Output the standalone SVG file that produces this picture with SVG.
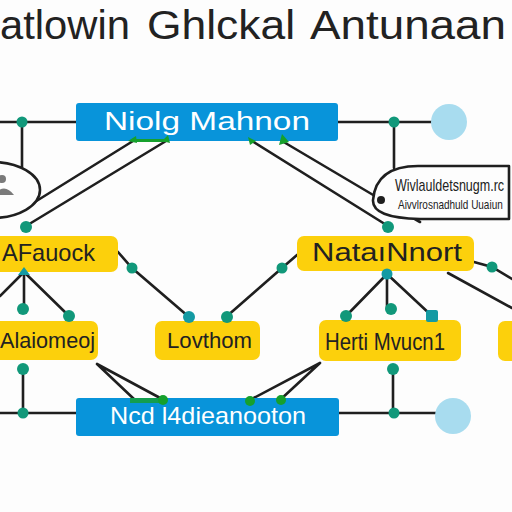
<svg xmlns="http://www.w3.org/2000/svg" width="512" height="512" viewBox="0 0 512 512">
<style>
.ln{stroke:#1f1f1f;stroke-width:2.6;fill:none;stroke-linecap:round}
.dot{fill:#11987a}
.teal{fill:#139aa3}
.gm{fill:#16a02c}
.blue{fill:#0894da}
.yel{fill:#fcd00c}
.cir{fill:#a8dcef}
.tw{font-family:"Liberation Sans",Arial,sans-serif;fill:#fff}
.tk{font-family:"Liberation Sans",Arial,sans-serif;fill:#222}
</style>
<rect width="512" height="512" fill="#fdfdfd"/>
<g id="title">
<text class="tk" x="0" y="39" font-size="40" textLength="130" lengthAdjust="spacingAndGlyphs">atlowin</text>
<text class="tk" x="147" y="39" font-size="40" textLength="148" lengthAdjust="spacingAndGlyphs">Ghlckal</text>
<text class="tk" x="310" y="39" font-size="40" textLength="196" lengthAdjust="spacingAndGlyphs">Antunaan</text>
</g>
<g id="connectors">
<path class="ln" d="M0 122H76M22 122V168"/>
<path class="ln" d="M338 122H440M394 122V168"/>
<path class="ln" d="M133 141L30 205M166 141L26 226"/>
<path class="ln" d="M252 141L388 226M282 141L385 202L420 222"/>
<path class="ln" d="M118 252L132 268L189 317M226 317L282 268L297 255"/>
<path class="ln" d="M24 272L0 296M24 272V310M24 272L69 316"/>
<path class="ln" d="M387 274L346 316M387 274V309M387 274L432 316"/>
<path class="ln" d="M474 262L492 267L512 279M448 273L512 308"/>
<path class="ln" d="M23 369V413M0 413H76"/>
<path class="ln" d="M393 369V413M339 413H436"/>
<path class="ln" d="M97 364L135 400M97 364L162 399"/>
<path class="ln" d="M320 363L250 400M320 363L280 400"/>
</g>
<g id="callout-left">
<ellipse cx="-8" cy="190" rx="48" ry="28" fill="#fdfdfd" stroke="#1f1f1f" stroke-width="2.6"/>
<circle cx="2" cy="179" r="4" fill="#7a7a7a"/>
<path d="M-6 195Q4 182 14 195Z" fill="#7a7a7a"/>
</g>
<g id="callout-right">
<path d="M509 166H418Q376 166 373 200Q372 218 420 219H509Z" fill="#fdfdfd" stroke="#1f1f1f" stroke-width="2.6" stroke-linejoin="round"/>
<circle cx="381" cy="200" r="4" fill="#1f1f1f"/>
<text class="tk" transform="translate(395 191) scale(0.737 1)" x="0" y="0" font-size="17" textLength="148" lengthAdjust="spacingAndGlyphs">Wivlauldetsnugm.rc</text>
<text class="tk" transform="translate(398 209) scale(0.77 1)" x="0" y="0" font-size="13" textLength="136" lengthAdjust="spacingAndGlyphs">Aivvlrosnadhuld Uuaiun</text>
</g>
<g id="node-top">
<rect class="blue" x="76" y="103" width="262" height="38" rx="3"/>
<text class="tw" x="104" y="130" font-size="25" textLength="206" lengthAdjust="spacingAndGlyphs">Niolg Mahnon</text>
</g>
<g id="node-bottom">
<rect class="blue" x="76" y="398" width="263" height="38" rx="3"/>
<text class="tw" x="110" y="424" font-size="24" textLength="196" lengthAdjust="spacingAndGlyphs">Ncd l4dieanooton</text>
</g>
<g id="circles">
<circle class="cir" cx="449" cy="122" r="18"/>
<circle class="cir" cx="453" cy="416" r="18"/>
</g>
<g id="node-l2-left">
<rect class="yel" x="-10" y="236" width="128" height="36" rx="7"/>
<text class="tk" x="2" y="261" font-size="24" textLength="93" lengthAdjust="spacingAndGlyphs">AFauock</text>
</g>
<g id="node-l2-right">
<rect class="yel" x="297" y="236" width="177" height="35" rx="7"/>
<text class="tk" x="312" y="261" font-size="26" textLength="150" lengthAdjust="spacingAndGlyphs">NataıNnort</text>
</g>
<g id="node-l3-a">
<rect class="yel" x="-10" y="321" width="108" height="39" rx="7"/>
<text class="tk" x="0" y="348" font-size="22" textLength="95" lengthAdjust="spacingAndGlyphs">Alaiomeoj</text>
</g>
<g id="node-l3-b">
<rect class="yel" x="155" y="321" width="105" height="39" rx="7"/>
<text class="tk" x="167" y="348" font-size="22" textLength="85" lengthAdjust="spacingAndGlyphs">Lovthom</text>
</g>
<g id="node-l3-c">
<rect class="yel" x="319" y="320" width="142" height="41" rx="7"/>
<text class="tk" x="325" y="350" font-size="24" textLength="120" lengthAdjust="spacingAndGlyphs">Herti Mvucn1</text>
</g>
<g id="node-l3-d">
<rect class="yel" x="498" y="321" width="30" height="40" rx="7"/>
</g>
<g id="markers">
<circle class="dot" cx="22" cy="122" r="5.5"/>
<circle class="dot" cx="394" cy="122" r="5.5"/>
<circle class="dot" cx="26" cy="227" r="6"/>
<circle class="dot" cx="388" cy="227" r="6"/>
<path class="gm" d="M128 141L136 136L137 143ZM162 141L168 135L170 143Z"/>
<rect class="gm" x="133" y="139" width="33" height="3"/>
<path class="gm" d="M256 141L248 137L250 145ZM282 134L289 142L279 145Z"/>
<circle class="dot" cx="132" cy="268" r="5.5"/>
<circle class="teal" cx="189" cy="317" r="6"/>
<circle class="dot" cx="227" cy="317" r="6"/>
<circle class="dot" cx="282" cy="268" r="5.5"/>
<path class="teal" d="M24 267L30 275H18Z"/>
<circle class="dot" cx="23" cy="309" r="6"/>
<circle class="dot" cx="69" cy="316" r="6"/>
<circle class="teal" cx="387" cy="274" r="5.5"/>
<circle class="dot" cx="346" cy="316" r="6"/>
<circle class="dot" cx="391" cy="309" r="6"/>
<rect class="teal" x="426" y="310" width="12" height="12" rx="2"/>
<circle class="dot" cx="492" cy="267" r="5.5"/>
<circle class="dot" cx="23" cy="369" r="6"/>
<circle class="dot" cx="23" cy="413" r="5.5"/>
<circle class="dot" cx="393" cy="369" r="6"/>
<circle class="dot" cx="394" cy="413" r="5.5"/>
<rect class="gm" x="130" y="398" width="34" height="5" opacity="0.8"/>
<circle class="gm" cx="163" cy="400" r="5"/>
<circle class="gm" cx="250" cy="401" r="5"/>
<circle class="gm" cx="281" cy="400" r="5"/>
</g>
</svg>
